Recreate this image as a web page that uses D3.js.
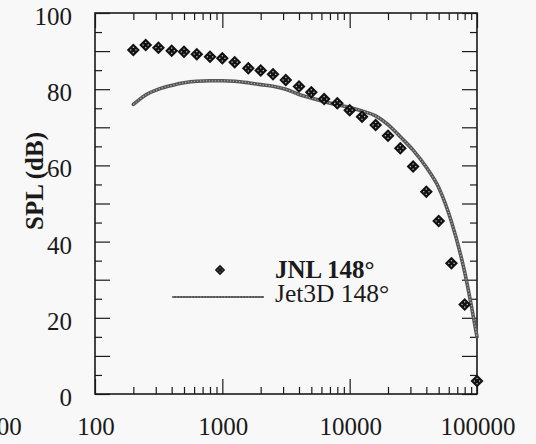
<!DOCTYPE html>
<html><head><meta charset="utf-8">
<script src="https://cdn.jsdelivr.net/npm/d3@7"></script>
<style>body{margin:0;background:#f8f8f8}svg{display:block}text{font-family:"Liberation Serif","Times New Roman",Times,serif}</style>
</head><body>
<script>
const freqs = [200,250,315,400,500,630,800,1000,1250,1600,2000,2500,3150,4000,5000,6300,8000,10000,12500,16000,20000,25000,31500,40000,50000,63000,80000,100000];
const jnl = [90.3,91.6,90.9,90.1,89.8,89.2,88.5,88.1,87.1,85.5,84.9,83.9,82.4,80.7,79.2,77.4,76.3,74.5,72.8,70.6,67.8,64.5,59.7,53.1,45.4,34.3,23.5,3.4];
const jet3d = [76.0,78.5,80.0,81.0,81.7,82.1,82.2,82.2,82.1,81.7,81.2,80.8,80.0,78.6,77.7,76.7,75.9,75.2,74.3,73.0,70.7,67.5,64.0,59.5,54.2,45.2,32.0,15.0];
const xTickLabels = [100,1000,10000,100000];
const yTickLabels = [0,20,40,60,80,100];
const seriesNames = ["JNL 148°","Jet3D 148°"];
const yTitle = "SPL (dB)";

const W=536,H=444;
const svg=d3.select("body").append("svg").attr("width",W).attr("height",H);
svg.append("rect").attr("width",W).attr("height",H).attr("fill","#f8f8f8");
const L=95,R=477,T=13,B=394;
const x=d3.scaleLog().domain([100,100000]).range([L,R]);
const y=d3.scaleLinear().domain([0,100]).range([B,T]);
const ink="#1a1a1a";

// ticks
const xMajor=[100,1000,10000,100000];
const xMinor=[];
for(const d of [100,1000,10000]) for(let k=2;k<=9;k++) xMinor.push(d*k);
const yMajor=d3.range(0,101,10);
const yMinor=d3.range(5,100,10);
function styleAx(g){g.select(".domain").remove();g.selectAll("line").attr("stroke",ink).attr("stroke-width",1.2);g.selectAll("text").remove();}
svg.append("g").attr("transform",`translate(0,${B})`).call(d3.axisBottom(x).tickValues(xMajor).tickSize(-15)).call(styleAx);
svg.append("g").attr("transform",`translate(0,${B})`).call(d3.axisBottom(x).tickValues(xMinor).tickSize(-7)).call(styleAx);
svg.append("g").attr("transform",`translate(0,${T})`).call(d3.axisTop(x).tickValues(xMajor).tickSize(-15)).call(styleAx);
svg.append("g").attr("transform",`translate(0,${T})`).call(d3.axisTop(x).tickValues(xMinor).tickSize(-7)).call(styleAx);
svg.append("g").attr("transform",`translate(${L},0)`).call(d3.axisLeft(y).tickValues(yMajor).tickSize(-15)).call(styleAx);
svg.append("g").attr("transform",`translate(${L},0)`).call(d3.axisLeft(y).tickValues(yMinor).tickSize(-7)).call(styleAx);
svg.append("g").attr("transform",`translate(${R},0)`).call(d3.axisRight(y).tickValues(yMajor).tickSize(-15)).call(styleAx);
svg.append("g").attr("transform",`translate(${R},0)`).call(d3.axisRight(y).tickValues(yMinor).tickSize(-7)).call(styleAx);

// frame
svg.append("rect").attr("x",L).attr("y",T).attr("width",R-L).attr("height",B-T)
  .attr("fill","none").attr("stroke",ink).attr("stroke-width",1.6);

// tick labels
svg.selectAll(".xl").data(xTickLabels).enter().append("text")
  .attr("x",d=>x(d)+1).attr("y",435).attr("text-anchor","middle")
  .attr("font-size",25).attr("fill",ink).text(d=>d);
// stray clipped label at far left
svg.append("text").attr("x",3).attr("y",435).attr("text-anchor","middle")
  .attr("font-size",25).attr("fill",ink).text(xTickLabels[0]);
svg.selectAll(".yl").data(yTickLabels).enter().append("text")
  .attr("x",72).attr("y",d=>y(d)+12).attr("text-anchor","end")
  .attr("font-size",25).attr("fill",ink).text(d=>d);

// y title
svg.append("text").attr("transform","translate(43,181) rotate(-90)").attr("text-anchor","middle")
  .attr("font-size",25).attr("font-weight","bold").attr("fill",ink).text(yTitle);

// Jet3D line
const line=d3.line().x((d,i)=>x(freqs[i])).y(d=>y(d)).curve(d3.curveMonotoneX);
function stipple(sel,w){
  sel.append("path").attr("fill","none").attr("stroke","#555").attr("stroke-width",w).attr("stroke-linecap","round");
  sel.append("path").attr("fill","none").attr("stroke","#fff").attr("stroke-opacity",0.5).attr("stroke-width",w*0.35).attr("stroke-dasharray","1.3,1.7");
}
const lg=svg.append("g");
stipple(lg,3.6);
lg.selectAll("path").attr("d",line(jet3d));

// JNL markers
function marker(g){
  g.append("path").attr("d","M0,-6.5L6.5,0L0,6.5L-6.5,0Z").attr("fill","#111");
  const c="#bbb", s=1.3;
  [[0,-2.6],[0,2.6],[-2.6,0],[2.6,0]].forEach(p=>{
    g.append("rect").attr("x",p[0]-s/2).attr("y",p[1]-s/2).attr("width",s).attr("height",s).attr("fill",c);
  });
}
svg.selectAll(".m").data(jnl).enter().append("g")
  .attr("transform",(d,i)=>`translate(${x(freqs[i])},${y(d)})`).each(function(){marker(d3.select(this));});

// legend
const lm=svg.append("g").attr("transform","translate(220,270) scale(0.8)");
marker(lm);
svg.append("text").attr("x",275).attr("y",278).attr("font-size",25)
  .attr("font-weight","bold").attr("fill",ink).text(seriesNames[0]);
const ll=svg.append("g");
stipple(ll,2.2);
ll.selectAll("path").attr("d","M173,297L263,297");
svg.append("text").attr("x",275).attr("y",302).attr("font-size",25.5)
  .attr("fill",ink).text(seriesNames[1]);
</script>
</body></html>
